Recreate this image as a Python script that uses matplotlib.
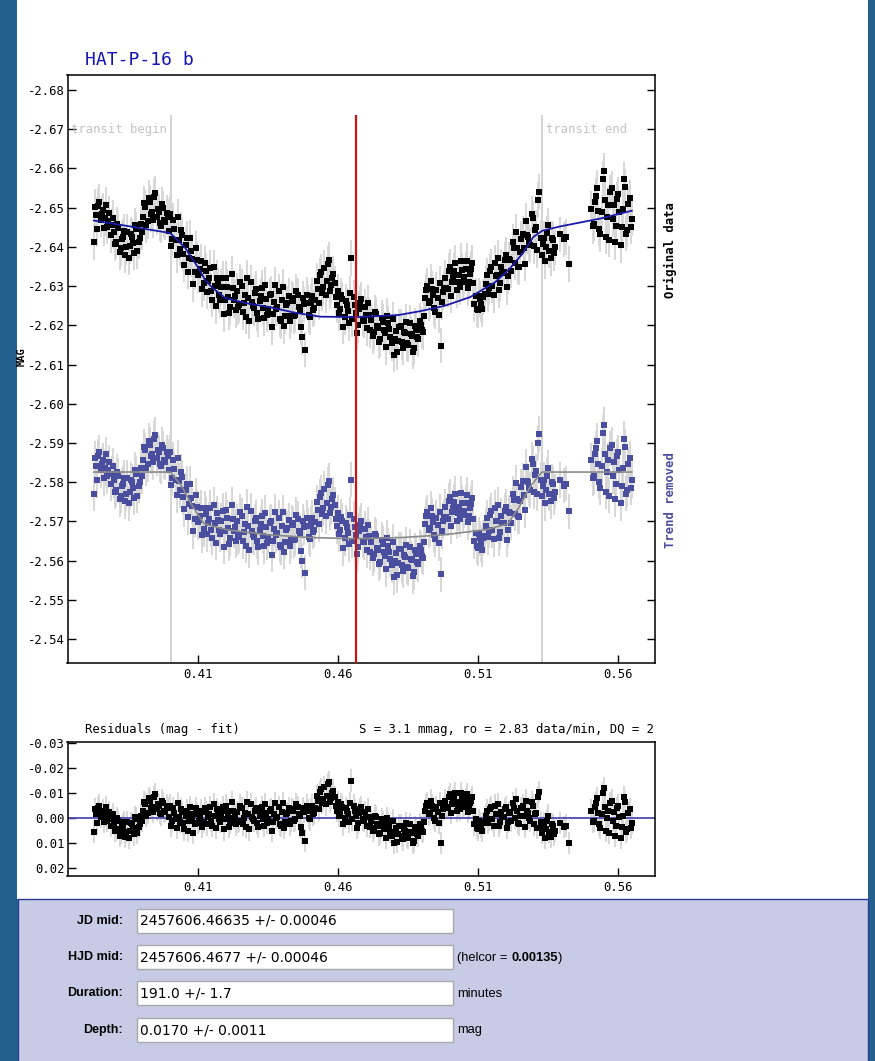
import numpy as np
import matplotlib
matplotlib.use('Agg')
import matplotlib.pyplot as plt
from matplotlib.patches import Rectangle

# Observation times, JD - 2457606 (two interleaved exposure sequences)
jd_frac = [
    0.3726, 0.3734, 0.3742, 0.3750, 0.3758, 0.3766, 0.3774, 0.3782, 0.3790, 0.3798,
    0.3806, 0.3814, 0.3822, 0.3830, 0.3838, 0.3846, 0.3854, 0.3862, 0.3870, 0.3878,
    0.3886, 0.3894, 0.3902, 0.3910, 0.3918, 0.3926, 0.3934, 0.3942, 0.3950, 0.3958,
    0.3966, 0.3974, 0.3982, 0.3990, 0.3998, 0.4006, 0.4014, 0.4022, 0.4030, 0.4038,
    0.4046, 0.4054, 0.4062, 0.4070, 0.4078, 0.4086, 0.4094, 0.4102, 0.4110, 0.4118,
    0.4126, 0.4134, 0.4142, 0.4150, 0.4158, 0.4166, 0.4174, 0.4182, 0.4190, 0.4198,
    0.4206, 0.4214, 0.4222, 0.4230, 0.4238, 0.4246, 0.4254, 0.4262, 0.4270, 0.4278,
    0.4286, 0.4294, 0.4302, 0.4310, 0.4318, 0.4326, 0.4334, 0.4342, 0.4350, 0.4358,
    0.4366, 0.4374, 0.4382, 0.4390, 0.4398, 0.4406, 0.4414, 0.4422, 0.4430, 0.4438,
    0.4446, 0.4454, 0.4462, 0.4470, 0.4478, 0.4486, 0.4494, 0.4502, 0.4510, 0.4518,
    0.4526, 0.4534, 0.4542, 0.4550, 0.4558, 0.4566, 0.4574, 0.4582, 0.4590, 0.4598,
    0.4606, 0.4614, 0.4622, 0.4630, 0.4638, 0.4646, 0.4654, 0.4662, 0.4670, 0.4678,
    0.4686, 0.4694, 0.4702, 0.4710, 0.4718, 0.4726, 0.4734, 0.4742, 0.4750, 0.4758,
    0.4766, 0.4774, 0.4782, 0.4790, 0.4798, 0.4806, 0.4814, 0.4822, 0.4830, 0.4838,
    0.4846, 0.4854, 0.4862, 0.4870, 0.4878, 0.4886, 0.4894, 0.4902, 0.4910, 0.4918,
    0.4926, 0.4934, 0.4942, 0.4950, 0.4958, 0.4966, 0.4974, 0.4982, 0.4990, 0.4998,
    0.5006, 0.5014, 0.5022, 0.5030, 0.5038, 0.5046, 0.5054, 0.5062, 0.5070, 0.5078,
    0.5086, 0.5094, 0.5102, 0.5110, 0.5118, 0.5126, 0.5134, 0.5142, 0.5150, 0.5158,
    0.5166, 0.5174, 0.5182, 0.5190, 0.5198, 0.5206, 0.5214, 0.5222, 0.5230, 0.5238,
    0.5246, 0.5254, 0.5262, 0.5270, 0.5278, 0.5286, 0.5294, 0.5302, 0.5310, 0.5318,
    0.5326, 0.5334, 0.5342, 0.5350, 0.5358, 0.5366, 0.5374,
    0.5390, 0.5406, 0.5414, 0.5422,
    0.5504, 0.5512, 0.5520, 0.5528, 0.5536, 0.5544, 0.5552, 0.5560, 0.5568, 0.5576,
    0.5584, 0.5592, 0.5600, 0.5608, 0.5616, 0.5624, 0.5632, 0.5640, 0.5648,
    # second sequence
    0.3730, 0.3738, 0.3746, 0.3754, 0.3762, 0.3770, 0.3778, 0.3786, 0.3794, 0.3802,
    0.3810, 0.3818, 0.3826, 0.3834, 0.3842, 0.3850, 0.3858, 0.3866, 0.3874, 0.3882,
    0.3890, 0.3898, 0.3906, 0.3914, 0.3922, 0.3930, 0.3938, 0.3946, 0.3954, 0.3962,
    0.3970, 0.3978, 0.3986, 0.3994, 0.4002, 0.4010, 0.4018, 0.4026, 0.4034, 0.4042,
    0.4050, 0.4058, 0.4066, 0.4074, 0.4082, 0.4090, 0.4098, 0.4106, 0.4114, 0.4122,
    0.4130, 0.4138, 0.4146, 0.4154, 0.4162, 0.4170, 0.4178, 0.4186, 0.4194, 0.4202,
    0.4210, 0.4218, 0.4226, 0.4234, 0.4242, 0.4250, 0.4258, 0.4266, 0.4274, 0.4282,
    0.4290, 0.4298, 0.4306, 0.4314, 0.4322, 0.4330, 0.4338, 0.4346, 0.4354, 0.4362,
    0.4370, 0.4378, 0.4386, 0.4394, 0.4402, 0.4410, 0.4418, 0.4426, 0.4434, 0.4442,
    0.4450, 0.4458, 0.4466, 0.4474, 0.4482, 0.4490, 0.4498, 0.4506, 0.4514, 0.4522,
    0.4530, 0.4538, 0.4546, 0.4554, 0.4562, 0.4570, 0.4578, 0.4586, 0.4594, 0.4602,
    0.4610, 0.4618, 0.4626, 0.4634, 0.4642, 0.4650, 0.4658, 0.4666, 0.4674, 0.4682,
    0.4690, 0.4698, 0.4706, 0.4714, 0.4722, 0.4730, 0.4738, 0.4746, 0.4754, 0.4762,
    0.4770, 0.4778, 0.4786, 0.4794, 0.4802, 0.4810, 0.4818, 0.4826, 0.4834, 0.4842,
    0.4850, 0.4858, 0.4866, 0.4874, 0.4882, 0.4890, 0.4898, 0.4906, 0.4914, 0.4922,
    0.4930, 0.4938, 0.4946, 0.4954, 0.4962, 0.4970, 0.4978, 0.4986, 0.4994, 0.5002,
    0.5010, 0.5018, 0.5026, 0.5034, 0.5042, 0.5050, 0.5058, 0.5066, 0.5074, 0.5082,
    0.5090, 0.5098, 0.5106, 0.5114, 0.5122, 0.5130, 0.5138, 0.5146, 0.5154, 0.5162,
    0.5170, 0.5178, 0.5186, 0.5194, 0.5202, 0.5210, 0.5218, 0.5226, 0.5234, 0.5242,
    0.5250, 0.5258, 0.5266, 0.5274, 0.5282, 0.5290, 0.5298, 0.5306, 0.5314, 0.5322,
    0.5330, 0.5338, 0.5346, 0.5354, 0.5362, 0.5370,
    0.5508, 0.5516, 0.5524, 0.5532, 0.5540, 0.5548, 0.5556, 0.5564, 0.5572, 0.5580,
    0.5588, 0.5596, 0.5604, 0.5612, 0.5620, 0.5628, 0.5636, 0.5644,
]

# Residuals (mag - fit) per observation, same order as jd_frac
resid = [
    0.0055, -0.0015, -0.0040, -0.0005, -0.0030, -0.0010, 0.0010, -0.0025, 0.0005,
    0.0020, 0.0045, 0.0010, 0.0060, 0.0030, 0.0075, 0.0015, 0.0050, 0.0025, 0.0065, 0.0005, 0.0035, -0.0010,
    -0.0030, -0.0055, -0.0020, -0.0070, -0.0045, -0.0085, -0.0035, -0.0050, -0.0015, -0.0060, -0.0025, -0.0040,
    -0.0050, 0.0010, -0.0020, 0.0040, -0.0005, -0.0035, 0.0020, -0.0010, 0.0050, -0.0045, 0.0000, 0.0025, -0.0015, 0.0010, -0.0030,
    0.0015, -0.0025, -0.0005, -0.0045, 0.0030, -0.0010, -0.0035, 0.0005, -0.0020, 0.0045, -0.0050, -0.0005, 0.0020, -0.0030, -0.0010,
    -0.0025, 0.0010, -0.0040, 0.0000, 0.0035, -0.0015, -0.0055, 0.0005, -0.0030, 0.0020, -0.0010, -0.0045, 0.0030,
    -0.0020, 0.0005, -0.0035, 0.0015, -0.0060, -0.0005, 0.0025, -0.0025, 0.0040, -0.0015, -0.0040, 0.0010,
    -0.0030, 0.0005, -0.0045, -0.0010, 0.0060, -0.0025, -0.0050, 0.0000, -0.0035, -0.0015,
    -0.0040, -0.0070, -0.0105, -0.0060, -0.0125, -0.0090, -0.0145, -0.0080, -0.0110, -0.0050,
    -0.0065, -0.0020, -0.0045, 0.0000, -0.0030, 0.0015, -0.0150, -0.0050, -0.0010, 0.0020, -0.0035, 0.0005, -0.0025, 0.0030, -0.0005,
    0.0010, 0.0040, -0.0005, 0.0030, 0.0060, 0.0015, 0.0045, 0.0000, 0.0035, 0.0070,
    0.0100, 0.0040, 0.0065, 0.0030, 0.0085, 0.0050, 0.0075, 0.0025, 0.0060, 0.0090, 0.0045, 0.0070, 0.0035, 0.0055,
    -0.0030, -0.0060, -0.0020, -0.0050, 0.0000, -0.0045, 0.0020, 0.0100, -0.0035,
    -0.0070, -0.0040, -0.0095, -0.0055, -0.0080, -0.0030, -0.0065, -0.0100, -0.0045, -0.0075, -0.0025, -0.0060, -0.0085,
    0.0025, 0.0040, 0.0010, 0.0035, 0.0020,
    -0.0010, 0.0020, -0.0035, 0.0005, -0.0050, -0.0015, 0.0030, -0.0025, -0.0005, -0.0045, 0.0015, -0.0020, -0.0060,
    0.0000, -0.0030, 0.0025, -0.0040, -0.0010, -0.0070, -0.0020, 0.0010, -0.0050, -0.0015, 0.0040, -0.0105,
    0.0060, 0.0020, 0.0045, -0.0010, 0.0075, 0.0030, 0.0050,
    0.0020, 0.0035, 0.0030, 0.0100,
    -0.0030, 0.0010, -0.0060, -0.0020, 0.0040, -0.0100, -0.0045, 0.0000, 0.0060, -0.0070,
    -0.0025, 0.0030, -0.0050, 0.0080, -0.0010, -0.0065, 0.0045, -0.0035, 0.0020,
    # second sequence
    -0.0035, 0.0020, -0.0050, -0.0020, 0.0015, -0.0045, -0.0005, 0.0030, -0.0015,
    0.0050, 0.0000, 0.0070, 0.0035, 0.0015, 0.0055, 0.0080, 0.0020, 0.0040, -0.0005, 0.0060, 0.0025, 0.0010,
    -0.0065, -0.0010, -0.0080, -0.0040, -0.0025, -0.0095, -0.0055, -0.0020, -0.0070, -0.0030, -0.0050, -0.0005,
    0.0030, -0.0040, 0.0005, -0.0060, 0.0015, -0.0025, 0.0045, -0.0030, 0.0010, -0.0015, 0.0060, -0.0040, 0.0020, -0.0005, 0.0035,
    -0.0040, 0.0025, -0.0015, 0.0010, -0.0055, 0.0040, -0.0020, 0.0015, -0.0045, 0.0005, -0.0030, 0.0035, -0.0065, 0.0000, 0.0025,
    0.0015, -0.0050, 0.0025, -0.0020, -0.0065, 0.0045, -0.0005, 0.0010, -0.0040, 0.0035, -0.0025, 0.0005, -0.0055,
    0.0020, -0.0030, 0.0050, -0.0015, 0.0000, -0.0045, 0.0030, -0.0060, 0.0015, -0.0020, 0.0025, -0.0035,
    0.0010, -0.0055, -0.0015, 0.0035, -0.0040, 0.0090, -0.0030, 0.0005, -0.0050, -0.0020,
    -0.0090, -0.0035, -0.0115, -0.0075, -0.0055, -0.0135, -0.0065, -0.0100, -0.0085, -0.0030,
    -0.0010, -0.0055, 0.0025, -0.0040, -0.0015, -0.0060, 0.0005, -0.0030, 0.0040, -0.0020, -0.0045, 0.0010, -0.0005, -0.0035, 0.0035,
    0.0050, -0.0010, 0.0025, 0.0065, 0.0005, 0.0035, 0.0080, 0.0020, 0.0055, 0.0010,
    0.0060, 0.0095, 0.0030, 0.0070, 0.0045, 0.0020, 0.0080, 0.0055, 0.0100, 0.0035, 0.0065, 0.0025, 0.0050, 0.0015,
    -0.0050, -0.0015, -0.0070, -0.0035, 0.0010, -0.0025, -0.0060, -0.0010, -0.0045,
    -0.0045, -0.0085, -0.0020, -0.0065, -0.0100, -0.0050, -0.0035, -0.0075, -0.0055, -0.0095, -0.0040, -0.0070, -0.0030,
    0.0005, 0.0045, 0.0020, 0.0050, 0.0015,
    -0.0030, 0.0005, -0.0045, 0.0030, -0.0015, -0.0055, 0.0015, -0.0005, -0.0035, 0.0040, -0.0025, 0.0010, -0.0040,
    -0.0075, 0.0020, -0.0010, -0.0050, 0.0035, -0.0030, 0.0000, -0.0065, 0.0025, -0.0020, -0.0085, 0.0015,
    0.0035, 0.0080, 0.0010, 0.0055, 0.0025, 0.0065,
    0.0015, -0.0045, -0.0080, 0.0025, -0.0015, -0.0120, 0.0050, -0.0030, -0.0060, 0.0010,
    0.0070, -0.0040, -0.0005, 0.0035, -0.0085, 0.0055, -0.0020, 0.0040,
]

# Full fit (transit + airmass trend)
fit_jd = [0.3726, 0.3856, 0.3992, 0.4002, 0.4052, 0.4077, 0.4099, 0.4124, 0.4149,
          0.4195, 0.4267, 0.4356, 0.4445, 0.4535, 0.4667, 0.4813, 0.4892, 0.4981,
          0.5071, 0.5160, 0.5213, 0.5260, 0.5296, 0.5328, 0.5392, 0.5535, 0.5648]
fit_mag = [-2.6467, -2.6452, -2.6436, -2.6433, -2.6398, -2.6370, -2.6347, -2.6315, -2.6296,
           -2.6270, -2.6257, -2.6246, -2.6232, -2.6222, -2.6221, -2.6226, -2.6236, -2.6250,
           -2.6272, -2.6310, -2.6345, -2.6385, -2.6425, -2.6441, -2.6452, -2.6472, -2.6492]

# Transit model alone, shown with the detrended points
model_jd = [0.3726, 0.4000, 0.4040, 0.4080, 0.4120, 0.4200, 0.4350, 0.4500, 0.4663,
            0.4826, 0.4976, 0.5126, 0.5206, 0.5246, 0.5286, 0.5327, 0.5648]
model_mag = [-2.5826, -2.5826, -2.5790, -2.5737, -2.5694, -2.5679, -2.5666, -2.5659, -2.5656,
             -2.5659, -2.5666, -2.5679, -2.5694, -2.5737, -2.5790, -2.5826, -2.5826]

mag_ticks = [-2.68, -2.67, -2.66, -2.65, -2.64, -2.63, -2.62, -2.61, -2.60,
             -2.59, -2.58, -2.57, -2.56, -2.55, -2.54]
res_ticks = [-0.03, -0.02, -0.01, 0.00, 0.01, 0.02]
jd_ticks = [0.41, 0.46, 0.51, 0.56]

mag_err = 0.0045
jd_mid = 0.46634999988601
duration_min = 191.0
transit_begin = jd_mid - duration_min / 2 / 1440
transit_end = jd_mid + duration_min / 2 / 1440

form_labels = ['JD mid:', 'HJD mid:', 'Duration:', 'Depth:']
form_values = ['2457606.46635 +/- 0.00046', '2457606.4677 +/- 0.00046',
               '191.0 +/- 1.7', '0.0170 +/- 0.0011']
form_units = ['', None, 'minutes', 'mag']

t = np.array(jd_frac)
r = np.array(resid)
mag_orig = np.interp(t, fit_jd, fit_mag) + r
mag_detr = np.interp(t, model_jd, model_mag) + r

plt.rcParams['font.family'] = 'DejaVu Sans Mono'
plt.rcParams['font.size'] = 8.8
plt.rcParams['axes.unicode_minus'] = False

W, H = 875, 1061
fig = plt.figure(figsize=(W / 100, H / 100), dpi=100)
fig.patch.set_facecolor('#24608d')

# pixel-space canvas for page furniture
bg = fig.add_axes([0, 0, 1, 1])
bg.set_xlim(0, W)
bg.set_ylim(H, 0)
bg.axis('off')
bg.add_patch(Rectangle((17, -2), 851, 901, fc='white', ec='none'))
bg.add_patch(Rectangle((17.5, 898.5), 850, 170, fc='#c8cbe5', ec='#2b3c98', lw=1))


def px_axes(left, top, right, bottom):
    return fig.add_axes([left / W, 1 - bottom / H, (right - left) / W, (bottom - top) / H])


grey_bar = '#d6d6d6'
ms = 3.7

# ---- light curve panel
ax = px_axes(67.5, 75, 655, 662.7)
ax.set_facecolor('white')
ax.set_xlim(0.3632, 0.5731)
ax.set_ylim(-2.534, -2.6838)
ax.vlines(t, mag_orig - mag_err, mag_orig + mag_err, color=grey_bar, lw=1.3, zorder=1)
ax.vlines(t, mag_detr - mag_err, mag_detr + mag_err, color=grey_bar, lw=1.3, zorder=1)
ax.plot(t, mag_orig, 's', ms=ms, mfc='black', mec='black', mew=0, zorder=3)
ax.plot(t, mag_detr, 's', ms=ms, mfc='#4a4e9e', mec='#4a4e9e', mew=0, zorder=3)
ax.plot(fit_jd, fit_mag, color='#1a1aa8', lw=1.3, zorder=4)
ax.plot(model_jd, model_mag, color='#8a8a8a', lw=1.2, zorder=4)
ax.vlines([transit_begin, transit_end], -2.534, -2.6736, color='#c8c8c8', lw=1.1, zorder=0)
ax.vlines([jd_mid], -2.534, -2.6736, color='#cc1414', lw=1.6, zorder=5)
ax.text(0.3645, -2.67, 'transit begin', color='#c4c4c4', va='center', ha='left')
ax.text(transit_end + 0.0015, -2.67, 'transit end', color='#c4c4c4', va='center', ha='left')
ax.set_yticks(mag_ticks)
ax.set_yticklabels(['%.2f' % v for v in mag_ticks])
ax.set_xticks(jd_ticks)
ax.set_xticklabels(['%.2f' % v for v in jd_ticks])
ax.tick_params(direction='in', length=6, width=1, right=True, pad=4)
ax.tick_params(axis='y', pad=2)
for s in ax.spines.values():
    s.set_linewidth(1.1)

bg.text(400, 89, f'JDmid: {jd_mid}', color='#c42020', ha='center', va='center')
bg.text(85, 60, 'HAT-P-16 b', color='#1414b4', fontsize=13, ha='left', va='center')
bg.text(22, 357, 'MAG', rotation=90, ha='center', va='center', weight='bold', fontsize=7.5)
bg.text(670, 250, 'Original data', rotation=90, ha='center', va='center', weight='bold')
bg.text(670, 500, 'Trend removed', rotation=90, ha='center', va='center', weight='bold',
        color='#4a4e9e')

# ---- residual panel
rx = px_axes(67.5, 741.7, 655, 875.7)
rx.set_xlim(0.3632, 0.5731)
rx.set_ylim(0.023, -0.0306)
rx.vlines(t, r - mag_err, r + mag_err, color=grey_bar, lw=1.3, zorder=1)
rx.axhline(0.0, color='#4d4db0', lw=1.3, zorder=2)
rx.plot(t, r, 's', ms=ms, mfc='black', mec='black', mew=0, zorder=3)
rx.set_yticks(res_ticks)
rx.set_yticklabels(['%.2f' % v for v in res_ticks])
rx.set_xticks(jd_ticks)
rx.set_xticklabels(['%.2f' % v for v in jd_ticks])
rx.tick_params(direction='in', length=6, width=1, pad=4)
rx.tick_params(axis='y', pad=2)
for s in rx.spines.values():
    s.set_linewidth(1.1)

bg.text(85, 729, 'Residuals (mag - fit)', ha='left', va='center')
bg.text(654, 729, 'S = 3.1 mmag, ro = 2.83 data/min, DQ = 2', ha='right', va='center')

# ---- result form
row_y = [920.5, 957, 993, 1029.5]
sans = ['Liberation Sans', 'DejaVu Sans']
renderer = fig.canvas.get_renderer()
for y, lab, val, unit in zip(row_y, form_labels, form_values, form_units):
    bg.text(123, y, lab, ha='right', va='center', family=sans, weight='bold', fontsize=9)
    bg.add_patch(Rectangle((137, y - 12), 316, 24, fc='white', ec='#a9a9a9', lw=1))
    bg.text(140, y + 0.5, val, ha='left', va='center', family='DejaVu Sans', fontsize=10)
    if unit is None:
        t1 = bg.text(457, y + 1, '(helcor = ', ha='left', va='center', family=sans, fontsize=9.3)
        x1 = bg.transData.inverted().transform(t1.get_window_extent(renderer))[1][0]
        t2 = bg.text(x1, y + 1, '0.00135', ha='left', va='center', family=sans,
                     fontsize=9.3, weight='bold')
        x2 = bg.transData.inverted().transform(t2.get_window_extent(renderer))[1][0]
        bg.text(x2, y + 1, ')', ha='left', va='center', family=sans, fontsize=9.3)
    elif unit:
        bg.text(457, y + 1, unit, ha='left', va='center', family=sans, fontsize=9.3)

fig.savefig('out.png', dpi=100, facecolor=fig.get_facecolor())
